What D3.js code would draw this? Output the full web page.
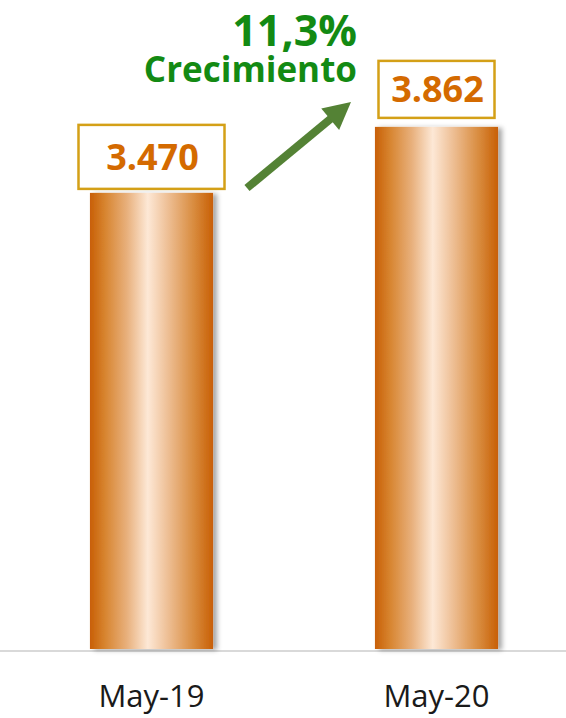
<!DOCTYPE html>
<html>
<head>
<meta charset="utf-8">
<script src="https://cdn.jsdelivr.net/npm/d3@7"></script>
<style>
	body { margin: 0; background: #fff; }
	svg { display: block; }
</style>
</head>
<body>
<div id="chart"></div>
<script>
// data
var categories = ["May-19", "May-20"];
var values = [3470, 3862];
var valueLabels = ["3.470", "3.862"];
var growthValue = "11,3%";
var growthText = "Crecimiento";

(function(){
	var width = 566, height = 718;
	var baseY = 649;

	var svg = d3.select("#chart")
		.append("svg")
		.attr("width", width)
		.attr("height", height);

	var defs = svg.append("defs");

	var grad = defs.append("linearGradient")
		.attr("id", "barGrad")
		.attr("x1", "0%").attr("x2", "100%")
		.attr("y1", "0%").attr("y2", "0%");
	[[0, "#c85f06"], [0.12, "#d7842f"], [0.3, "#e8b07c"], [0.47, "#fde8d6"], [0.62, "#efc29a"], [0.85, "#d88a3c"], [1, "#c85f06"]]
		.forEach(function(s){
			grad.append("stop").attr("offset", s[0]).attr("stop-color", s[1]);
		});

	var shadow = defs.append("filter")
		.attr("id", "shadow")
		.attr("x", "-10%").attr("y", "-5%")
		.attr("width", "130%").attr("height", "110%");
	shadow.append("feDropShadow")
		.attr("dx", 4).attr("dy", 1)
		.attr("stdDeviation", 2.5)
		.attr("flood-color", "#000")
		.attr("flood-opacity", 0.35);

	var x = d3.scaleBand()
		.domain(categories)
		.range([9, 579])
		.paddingInner(0.568)
		.paddingOuter(0.284);

	var y = d3.scaleLinear()
		.domain([761, 4000])
		.range([baseY, baseY - (4000 - 761) * 0.16837]);

	// baseline
	svg.append("line")
		.attr("x1", 0).attr("x2", width)
		.attr("y1", 651).attr("y2", 651)
		.attr("stroke", "#d9d9d9")
		.attr("stroke-width", 2);

	// bars
	svg.selectAll("rect.bar")
		.data(values)
		.enter().append("rect")
		.attr("class", "bar")
		.attr("x", function(d, i){ return x(categories[i]); })
		.attr("y", function(d){ return y(d); })
		.attr("width", x.bandwidth())
		.attr("height", function(d){ return baseY - y(d); })
		.attr("fill", "url(#barGrad)")
		.attr("filter", "url(#shadow)");

	// value boxes
	var boxW = [146, 116], boxH = [64, 57], boxGap = [4, 9];
	var lab = svg.selectAll("g.lab")
		.data(values)
		.enter().append("g")
		.attr("class", "lab");

	lab.append("rect")
		.attr("x", function(d, i){ return x(categories[i]) + x.bandwidth() / 2 - boxW[i] / 2; })
		.attr("y", function(d, i){ return y(d) - boxGap[i] - boxH[i]; })
		.attr("width", function(d, i){ return boxW[i]; })
		.attr("height", function(d, i){ return boxH[i]; })
		.attr("fill", "#fff")
		.attr("stroke", "#d4a017")
		.attr("stroke-width", 2.5);

	lab.append("text")
		.attr("x", function(d, i){ return x(categories[i]) + x.bandwidth() / 2 + 1; })
		.attr("y", function(d, i){ return y(d) - boxGap[i] - boxH[i] / 2 + 13; })
		.attr("text-anchor", "middle")
		.attr("font-family", "'Open Sans', sans-serif")
		.attr("font-weight", "bold")
		.attr("font-size", 36)
		.attr("fill", "#d46a00")
		.text(function(d, i){ return valueLabels[i]; });

	// x axis labels
	svg.selectAll("text.cat")
		.data(categories)
		.enter().append("text")
		.attr("class", "cat")
		.attr("x", function(d){ return x(d) + x.bandwidth() / 2; })
		.attr("y", 707)
		.attr("text-anchor", "middle")
		.attr("font-family", "'Open Sans', sans-serif")
		.attr("font-size", 31)
		.attr("fill", "#1a1a1a")
		.text(function(d){ return d; });

	// growth arrow
	var x0 = 247, y0 = 188, x1 = 351, y1 = 102;
	var dx = x1 - x0, dy = y1 - y0, len = Math.sqrt(dx * dx + dy * dy);
	var ux = dx / len, uy = dy / len, px = -uy, py = ux;
	var headL = 27, headW = 14;
	var bx = x1 - ux * headL, by = y1 - uy * headL;
	svg.append("line")
		.attr("x1", x0).attr("y1", y0)
		.attr("x2", bx + ux * 4).attr("y2", by + uy * 4)
		.attr("stroke", "#548235")
		.attr("stroke-width", 8);
	svg.append("path")
		.attr("d", "M" + x1 + "," + y1 +
			"L" + (bx + px * headW) + "," + (by + py * headW) +
			"L" + (bx - px * headW) + "," + (by - py * headW) + "Z")
		.attr("fill", "#548235");

	svg.append("text")
		.attr("x", 357).attr("y", 46)
		.attr("text-anchor", "end")
		.attr("font-family", "'Open Sans', sans-serif")
		.attr("font-weight", "bold")
		.attr("font-size", 43)
		.attr("fill", "#138a13")
		.text(growthValue);

	svg.append("text")
		.attr("x", 357).attr("y", 82)
		.attr("text-anchor", "end")
		.attr("font-family", "'Open Sans', sans-serif")
		.attr("font-weight", "bold")
		.attr("font-size", 35)
		.attr("fill", "#138a13")
		.text(growthText);
})();
</script>
</body>
</html>
